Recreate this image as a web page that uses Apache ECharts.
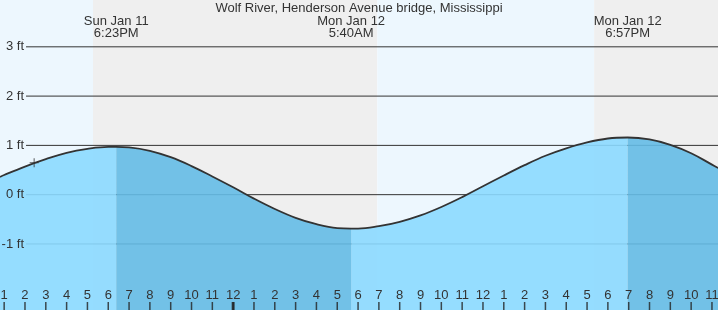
<!DOCTYPE html>
<html>
<head>
<meta charset="utf-8">
<script src="https://cdn.jsdelivr.net/npm/echarts@6/dist/echarts.min.js"></script>
<style>
html,body{margin:0;padding:0;background:#fff;}
#c{width:718px;height:310px;}
</style>
</head>
<body>
<div id="c"></div>
<script>
// ---- data ----
const titleText = 'Wolf River, Henderson Avenue bridge, Mississippi';
// time in hours from Sun Jan 11 00:00
const times = [12.8, 13, 14, 15, 16, 17, 18, 18.383, 19, 20, 21, 22, 23, 24, 25, 26, 27, 28, 29, 29.667, 30, 31, 32, 33, 34, 35, 36, 37, 38, 39, 40, 41, 42, 42.95, 44, 45, 46, 47, 47.3];
const heights = [0.36, 0.40, 0.57, 0.72, 0.85, 0.93, 0.97, 0.97, 0.96, 0.89, 0.76, 0.58, 0.37, 0.15, -0.08, -0.29, -0.47, -0.60, -0.68, -0.69, -0.69, -0.64, -0.55, -0.42, -0.25, -0.05, 0.17, 0.39, 0.60, 0.79, 0.94, 1.06, 1.14, 1.16, 1.12, 1.01, 0.84, 0.61, 0.54];
const tideTimes = [18.383, 29.667, 42.95];
const tideLabels = ['Sun Jan 11\n6:23PM', 'Mon Jan 12\n5:40AM', 'Mon Jan 12\n6:57PM'];
const hourTicks = [13,14,15,16,17,18,19,20,21,22,23,24,25,26,27,28,29,30,31,32,33,34,35,36,37,38,39,40,41,42,43,44,45,46,47];
const midnightTicks = [24];
const yTicks = [-1, 0, 1, 2, 3];
const sunEvents = [17.27, 30.92, 41.34]; // sunset, sunrise, sunset
const nowPoint = [14.44, 0.65];
const xMin = 12.8, xMax = 47.29, yMin = -2.34, yMax = 3.95;
const gridLineStart = 14.05;

// ---- build ----
const FONT = '"Liberation Sans", Arial, sans-serif';
const pts = times.map((t, i) => [t, heights[i]]);
function inRange(t, a, b) { return t >= a - 1e-6 && t <= b + 1e-6; }
const light1 = pts.filter(p => inRange(p[0], xMin, tideTimes[0]));
const light2 = pts.filter(p => inRange(p[0], tideTimes[1], tideTimes[2]));
const dark1 = pts.filter(p => inRange(p[0], tideTimes[0], tideTimes[1]));
const dark2 = pts.filter(p => inRange(p[0], tideTimes[2], xMax + 1));
const lightArea = light1.concat([[ (tideTimes[0]+tideTimes[1])/2, null ]], light2);
const darkArea = dark1.concat([[ (tideTimes[1]+tideTimes[2])/2, null ]], dark2);

const dayColor = '#edf7fe', nightColor = '#efefef';
const bands = [
  [{xAxis: xMin, itemStyle:{color: dayColor}}, {xAxis: sunEvents[0]}],
  [{xAxis: sunEvents[0], itemStyle:{color: nightColor}}, {xAxis: sunEvents[1]}],
  [{xAxis: sunEvents[1], itemStyle:{color: dayColor}}, {xAxis: sunEvents[2]}],
  [{xAxis: sunEvents[2], itemStyle:{color: nightColor}}, {xAxis: xMax}]
];

const series = [];
series.push({
  type: 'line', data: [[xMin, yMin]], symbol: 'none', lineStyle:{opacity:0}, silent: true, z: 0,
  markArea: { silent: true, data: bands }
});
yTicks.forEach(v => {
  series.push({
    type: 'line', data: [[gridLineStart, v], [xMax, v]], symbol: 'none', silent: true, z: 1,
    lineStyle: { color: '#333', width: 1 }
  });
});
series.push({
  type: 'line', data: lightArea, symbol: 'none', smooth: 0.4, connectNulls: false, silent: true, z: 2,
  lineStyle: { width: 0 },
  areaStyle: { color: 'rgb(139,217,255)', opacity: 0.9, origin: 'start' }
});
series.push({
  type: 'line', data: darkArea, symbol: 'none', smooth: 0.4, connectNulls: false, silent: true, z: 2,
  lineStyle: { width: 0 },
  areaStyle: { color: 'rgb(100,187,229)', opacity: 0.9, origin: 'start' }
});
series.push({
  type: 'line', data: pts, symbol: 'none', smooth: 0.4, silent: true, z: 3,
  lineStyle: { color: '#333', width: 1.8 }
});
series.push({
  type: 'scatter', data: [nowPoint], silent: true, z: 4,
  symbol: 'path://M4,0h1v4h4v1h-4v4h-1v-4h-4v-1h4z', symbolSize: 9,
  itemStyle: { color: '#333' }
});
// hour ticks and thick midnight tick, anchored at the axis bottom
series.push({
  type: 'scatter', data: hourTicks.map(h => [h, yMin]), silent: true, z: 5,
  symbol: 'rect', symbolSize: [1.5, 16], itemStyle: { color: '#222' }
});
series.push({
  type: 'scatter', data: midnightTicks.map(h => [h, yMin]), silent: true, z: 6,
  symbol: 'rect', symbolSize: [3, 16], itemStyle: { color: '#222' }
});

const chart = echarts.init(document.getElementById('c'), null, {renderer: 'canvas'});
chart.setOption({
  animation: false,
  backgroundColor: '#ffffff',
  textStyle: { fontFamily: FONT },
  title: {
    text: titleText, left: 'center', top: 0, padding: [2, 0, 0, 0], z: 20,
    textStyle: { fontSize: 13, fontWeight: 'normal', color: '#333', fontFamily: FONT }
  },
  grid: { left: 0, right: 0, top: 0, bottom: 0, containLabel: false, outerBoundsMode: 'none' },
  xAxis: [
    {
      type: 'value', position: 'bottom', min: xMin, max: xMax, z: 20,
      axisLine: { show: false, onZero: false },
      splitLine: { show: false },
      axisTick: { show: false },
      axisLabel: {
        show: true, inside: true, margin: 8, customValues: hourTicks,
        fontSize: 13, color: '#333', fontFamily: FONT,
        formatter: v => { const h = Math.round(v) % 12; return String(h === 0 ? 12 : h); }
      }
    },
    {
      type: 'value', position: 'top', offset: 0, min: xMin, max: xMax, z: 20,
      axisLine: { show: false, onZero: false }, splitLine: { show: false }, axisTick: { show: false },
      axisLabel: {
        show: true, inside: true, margin: 15, customValues: tideTimes,
        fontSize: 13, color: '#333', fontFamily: FONT, lineHeight: 12.5, align: 'center',
        formatter: v => { const i = tideTimes.findIndex(t => Math.abs(t - v) < 1e-3); return i >= 0 ? tideLabels[i] : ''; }
      }
    }
  ],
  yAxis: {
    type: 'value', min: yMin, max: yMax, position: 'left', offset: -26, z: 20,
    axisLine: { show: false, onZero: false }, axisTick: { show: false }, splitLine: { show: false },
    axisLabel: {
      show: true, margin: 2, customValues: yTicks, fontSize: 13, color: '#333', fontFamily: FONT,
      formatter: v => v + ' ft'
    }
  },
  series: series
});
</script>
</body>
</html>
